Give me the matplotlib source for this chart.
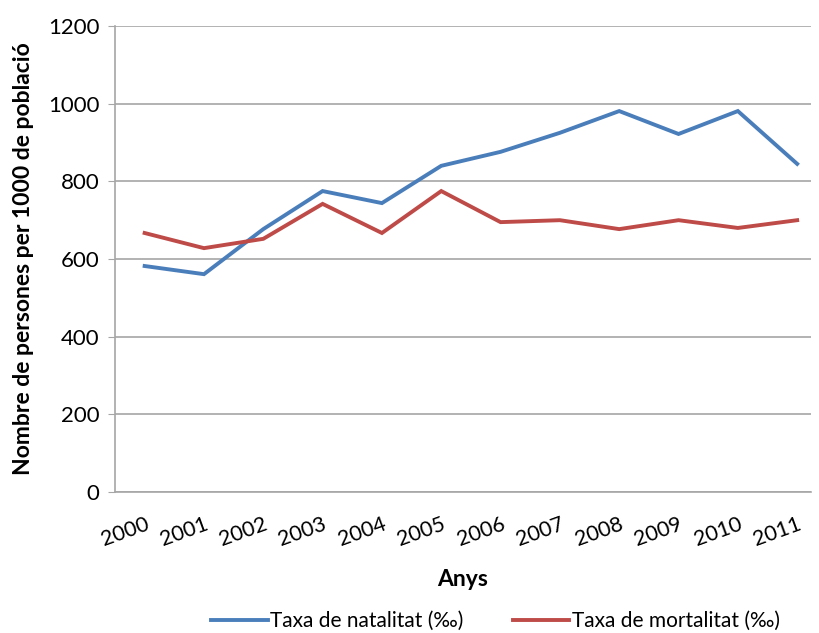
import matplotlib.pyplot as plt
from matplotlib.transforms import ScaledTranslation

plt.rcParams['font.family'] = ['Lato', 'DejaVu Sans']

anys = ['2000', '2001', '2002', '2003', '2004', '2005',
        '2006', '2007', '2008', '2009', '2010', '2011']
natalitat = [582, 561, 677, 775, 744, 840, 876, 925, 981, 922, 981, 845]
mortalitat = [667, 628, 652, 742, 667, 775, 695, 700, 677, 700, 680, 700]

blau = '#4A7EBB'
vermell = '#BE4B48'
gris = '#A6A6A6'

fig = plt.figure(figsize=(8.19, 6.33), dpi=100)
ax = fig.add_axes([0.1404, 0.2227, 0.8496, 0.7362])

x = range(len(anys))
ax.plot(x, natalitat, color=blau, lw=2.8, label='Taxa de natalitat (‰)', solid_joinstyle='miter')
ax.plot(x, mortalitat, color=vermell, lw=2.8, label='Taxa de mortalitat (‰)', solid_joinstyle='miter')

ax.set_ylim(0, 1200)
ax.set_yticks(range(0, 1201, 200))
ax.set_xlim(-0.5, 11.23)
ax.set_xticks(list(x))
ax.set_xticklabels(anys, rotation=20, ha='right', va='top', rotation_mode='anchor')
# desplaça les etiquetes dels anys una mica a la dreta
for lbl in ax.get_xticklabels():
    lbl.set_transform(lbl.get_transform() + ScaledTranslation(0.06, 0, fig.dpi_scale_trans))

ax.grid(axis='y', color=gris, lw=1.2)
ax.set_axisbelow(True)
for s in ['top', 'right']:
    ax.spines[s].set_visible(False)
for s in ['left', 'bottom']:
    ax.spines[s].set_color(gris)
    ax.spines[s].set_linewidth(1.2)

ax.tick_params(axis='y', labelsize=16, length=5, color=gris, pad=6)
ax.tick_params(axis='x', labelsize=15.5, length=0, pad=16)

ax.set_ylabel('Nombre de persones per 1000 de població', fontsize=16.5, fontweight='bold', labelpad=10)
ax.set_xlabel('Anys', fontsize=16.5, fontweight='bold', labelpad=14)

fig.legend(loc='center', bbox_to_anchor=(0.605, 0.019), ncol=2, frameon=False,
           fontsize=15, handlelength=2.7, handletextpad=0.1, columnspacing=2.4)

fig.savefig('out.png', dpi=100, facecolor='white')
